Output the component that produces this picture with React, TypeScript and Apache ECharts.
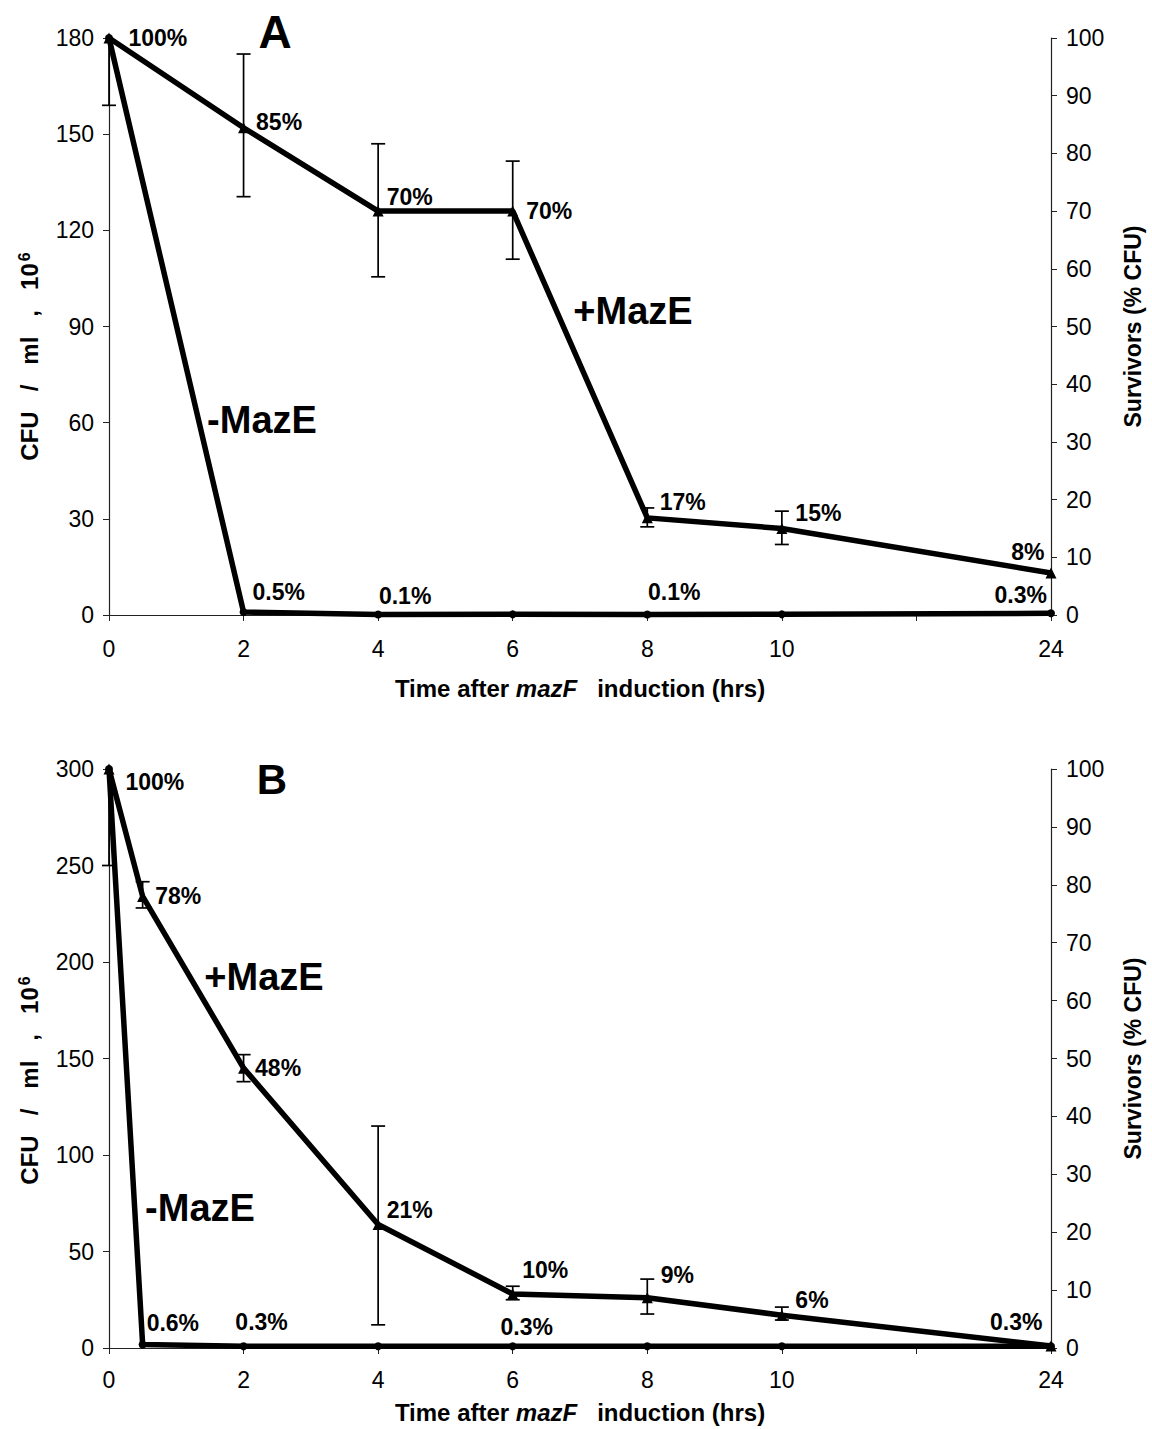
import React, { useEffect, useRef } from "react";
import * as echarts from "echarts";

// ---------- DATA ----------
const xTickLabels = ["0", "2", "4", "6", "8", "10", "", "24"]; // at axis positions 0,2,...,14 (24 h drawn after a break)

const timesA = [0, 2, 4, 6, 8, 10, 24];
const plusA = [180, 152, 126, 126, 30.3, 27, 13.1];
const minusA = [180, 0.9, 0.18, 0.2, 0.18, 0.2, 0.54];
const plusLabelsA = ["100%", "85%", "70%", "70%", "17%", "15%", "8%"];
const minusLabelsA = ["", "0.5%", "0.1%", "", "0.1%", "", "0.3%"];
const errTimesA = [0, 2, 4, 6, 8, 10];
const errLowA = [159, 130.5, 105.5, 111, 27.5, 22];
const errHighA = [180, 175, 147, 141.6, 33.4, 32.4];

const timesB = [0, 0.5, 2, 4, 6, 8, 10, 24];
const plusB = [300, 234, 145, 64, 28, 26, 17, 1];
const minusB = [300, 1.8, 0.9, 0.9, 0.9, 0.9, 0.9, 0.9];
const plusLabelsB = ["100%", "78%", "48%", "21%", "10%", "9%", "6%", "0.3%"];
const minusLabelsB = ["", "0.6%", "0.3%", "", "0.3%", "", "", ""];
const errTimesB = [0, 0.5, 2, 4, 6, 8, 10];
const errLowB = [250, 228, 138, 12, 25, 17.6, 14.5];
const errHighB = [300, 241.6, 152, 115, 32, 35.7, 21.2];

// ---------- STYLE (label placement per point) ----------
type LP = [string, number, number, number];
const lpPlusA: LP[] = [["right", 14, 0, 0], ["right", 7, 0, -6], ["right", 3, 0, -14], ["right", 8, 0, 0], ["right", 7, 0, -16], ["right", 8, 0, -15], ["left", 1, 0, -21]];
const lpMinusA: LP[] = [["right", 0, 0, 0], ["right", 5, 0, -20], ["top", 3, 27, 0], ["top", 0, 0, 0], ["top", 7, 27, 0], ["top", 0, 0, 0], ["left", 0, 0, -18]];
const lpPlusB: LP[] = [["right", 11, 0, 13], ["right", 7, 0, 0], ["right", 6, 0, 0], ["right", 3, 0, -14], ["right", 4, 0, -24], ["right", 8, 0, -23], ["right", 8, 0, -15], ["left", 3, 0, -24]];
const lpMinusB: LP[] = [["right", 0, 0, 0], ["right", 0, 0, -22], ["top", 9, 18, 0], ["top", 0, 0, 0], ["top", 4, 14, 0], ["top", 0, 0, 0], ["top", 0, 0, 0], ["top", 0, 0, 0]];

const FONT = "'Liberation Sans', Arial, Helvetica, sans-serif";
const pos = (t: number) => (t === 24 ? 14 : t);

function lineSeries(times: number[], vals: number[], labels: string[], lp: LP[], symbol: string, size: number, gi: number) {
  return {
    type: "line",
    xAxisIndex: gi,
    yAxisIndex: gi * 2,
    symbol,
    symbolSize: size,
    showAllSymbol: true,
    clip: false,
    z: 4,
    lineStyle: { color: "#000", width: 5.5 },
    itemStyle: { color: "#000" },
    data: times.map((t, i) => ({
      value: [pos(t), vals[i]],
      label: {
        show: labels[i] !== "",
        formatter: labels[i],
        position: lp[i][0],
        distance: lp[i][1],
        offset: [lp[i][2], lp[i][3]],
        fontFamily: FONT,
        fontWeight: "bold",
        fontSize: 23,
        color: "#000",
      },
    })),
  };
}

function errSeries(times: number[], lo: number[], hi: number[], gi: number, ymax: number) {
  return {
    type: "custom",
    xAxisIndex: gi,
    yAxisIndex: gi * 2,
    clip: false,
    z: 3,
    encode: { x: 0, y: [1, 2] },
    data: times.map((t, i) => [pos(t), lo[i], hi[i]]),
    renderItem: (params: any, api: any) => {
      const x = api.value(0);
      const l = api.value(1);
      const h = api.value(2);
      const pl = api.coord([x, l]);
      const ph = api.coord([x, h]);
      const w = 7;
      const style = { stroke: "#000", lineWidth: 1.7 };
      const children: any[] = [
        { type: "line", shape: { x1: pl[0], y1: pl[1], x2: ph[0], y2: ph[1] }, style },
        { type: "line", shape: { x1: pl[0] - w, y1: pl[1], x2: pl[0] + w, y2: pl[1] }, style },
      ];
      if (h < ymax) children.push({ type: "line", shape: { x1: ph[0] - w, y1: ph[1], x2: ph[0] + w, y2: ph[1] }, style });
      return { type: "group", children };
    },
  };
}

function xAxisCfg(gi: number, nameGap: number, margin: number) {
  return {
    type: "value",
    gridIndex: gi,
    min: 0,
    max: 14,
    interval: 2,
    splitLine: { show: false },
    axisLine: { show: true, onZero: false, lineStyle: { color: "#222", width: 1.2 } },
    axisTick: { show: true, length: 6, lineStyle: { color: "#222" } },
    axisLabel: {
      margin,
      fontSize: 23,
      fontFamily: FONT,
      color: "#000",
      formatter: (v: number) => xTickLabels[Math.round(v / 2)] ?? "",
    },
    name: "{b|Time after }{i|mazF}{b|   induction (hrs)}",
    nameLocation: "middle",
    nameGap,
    nameTextStyle: {
      rich: {
        b: { fontSize: 24, fontWeight: "bold", fontFamily: FONT, color: "#000" },
        i: { fontSize: 24, fontWeight: "bold", fontStyle: "italic", fontFamily: FONT, color: "#000" },
      },
    },
  };
}

function yAxesCfg(gi: number, max: number, interval: number, shift: number) {
  return [
    {
      type: "value",
      gridIndex: gi,
      position: "left",
      min: 0,
      max,
      interval,
      splitLine: { show: false },
      axisLine: { show: true, lineStyle: { color: "#222", width: 1.2 } },
      axisTick: { show: true, length: 6, lineStyle: { color: "#222" } },
      axisLabel: { margin: 15, fontSize: 23, fontFamily: FONT, color: "#000" },
      name: "{b|CFU   /   ml   ,   10}{s|6}",
      nameLocation: "middle",
      nameRotate: 90,
      nameGap: 66,
      nameTextStyle: {
        padding: [0, shift * 2, 0, 0],
        rich: {
          b: { fontSize: 24, fontWeight: "bold", fontFamily: FONT, color: "#000" },
          s: { fontSize: 16, fontWeight: "bold", fontFamily: FONT, color: "#000", padding: [0, 0, 11, 2] },
        },
      },
    },
    {
      type: "value",
      gridIndex: gi,
      position: "right",
      min: 0,
      max: 100,
      interval: 10,
      splitLine: { show: false },
      axisLine: { show: true, lineStyle: { color: "#222", width: 1.2 } },
      axisTick: { show: true, length: 6, lineStyle: { color: "#222" } },
      axisLabel: { margin: 15, fontSize: 23, fontFamily: FONT, color: "#000" },
      name: "Survivors (% CFU)",
      nameLocation: "middle",
      nameRotate: 90,
      nameGap: 70,
      nameTextStyle: { fontSize: 23, fontWeight: "bold", fontFamily: FONT, color: "#000" },
    },
  ];
}

function bigText(text: string, x: number, y: number, size: number) {
  return {
    type: "text",
    x,
    y,
    z: 10,
    style: { text, fontSize: size, fontWeight: "bold", fontFamily: FONT, fill: "#000", align: "center", verticalAlign: "middle" },
  };
}

export default function App() {
  const ref = useRef<HTMLDivElement>(null);
  useEffect(() => {
    if (!ref.current) return;
    const chart = echarts.init(ref.current, undefined, { renderer: "svg" });
    chart.setOption({
      animation: false,
      backgroundColor: "#fff",
      grid: [
        { left: 109, top: 38, width: 947, height: 577 },
        { left: 109, top: 769, width: 943, height: 579 },
      ],
      xAxis: [xAxisCfg(0, 61, 22), xAxisCfg(1, 52, 20)],
      yAxis: [...yAxesCfg(0, 180, 30, 30), ...yAxesCfg(1, 300, 50, 22)],
      series: [
        errSeries(errTimesA, errLowA, errHighA, 0, 180),
        lineSeries(timesA, minusA, minusLabelsA, lpMinusA, "circle", 8, 0),
        lineSeries(timesA, plusA, plusLabelsA, lpPlusA, "triangle", 11, 0),
        errSeries(errTimesB, errLowB, errHighB, 1, 300),
        lineSeries(timesB, minusB, minusLabelsB, lpMinusB, "circle", 8, 1),
        lineSeries(timesB, plusB, plusLabelsB, lpPlusB, "triangle", 11, 1),
      ],
      graphic: [
        bigText("A", 275, 32, 46),
        bigText("B", 272, 779, 42),
        bigText("-MazE", 262, 420, 38),
        bigText("+MazE", 633, 311, 38),
        bigText("+MazE", 264, 977, 38),
        bigText("-MazE", 200, 1208, 38),
      ],
    });
    return () => chart.dispose();
  }, []);
  return <div ref={ref} style={{ position: "absolute", left: 0, top: 0, width: 1152, height: 1429 }} />;
}
